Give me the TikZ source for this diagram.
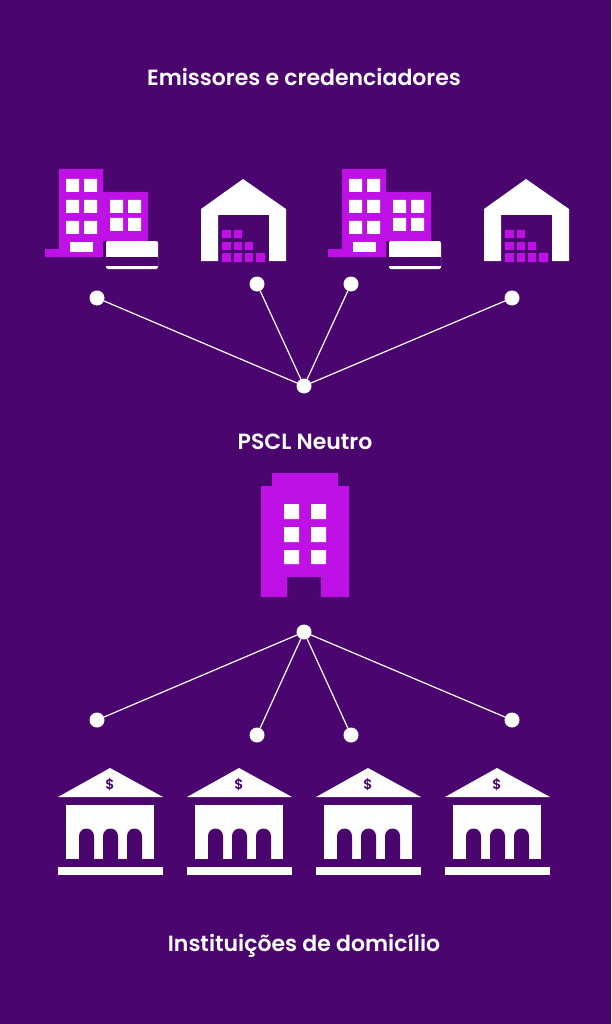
\documentclass[tikz,border=0pt]{standalone}
\usepackage{fontspec}
\setmainfont{Poppins}[UprightFont=*-Medium,BoldFont=*-SemiBold]
\definecolor{bgpurple}{HTML}{4A056F}
\definecolor{brightpurple}{HTML}{BF11E6}
\tikzset{
	dot/.style={circle,fill=white,inner sep=0pt,minimum size=15pt},
	wire/.style={draw=white,line width=1.2pt},
	heading/.style={text=white,font=\fontsize{22}{26}\selectfont\bfseries,inner sep=0pt},
	office/.pic={
		\fill[brightpurple] (14,9) -- (58,9) -- (58,32) -- (103,32) -- (103,81) -- (58,81) -- (58,97) -- (0,97) -- (0,89) -- (14,89) -- cycle;
		\fill[white] (21,19) rectangle (34,32) (39,19) rectangle (52,32);
		\fill[white] (21,40) rectangle (34,53) (39,40) rectangle (52,53);
		\fill[white] (21,61) rectangle (34,74) (39,61) rectangle (52,74);
		\fill[white] (65,40) rectangle (78,53) (83,40) rectangle (96,53);
		\fill[white] (65,58) rectangle (78,71) (83,58) rectangle (96,71);
		\fill[white] (25,82) rectangle (48,92);
		\fill[white,rounded corners=2pt] (61,81) rectangle (113,109);
		\fill[bgpurple] (61,97) rectangle (113,106);
	},
	depot/.pic={
		\fill[white] (0,30) -- (42,0) -- (85,30) -- (85,82) -- (68,82) -- (68,36) -- (17,36) -- (17,82) -- (0,82) -- cycle;
		\fill[brightpurple] (21,51) rectangle (30,59) (33,51) rectangle (41,59);
		\fill[brightpurple] (21,63) rectangle (30,71) (33,63) rectangle (41,71) (44,63) rectangle (52,71);
		\fill[brightpurple] (21,74) rectangle (30,83) (33,74) rectangle (41,83) (44,74) rectangle (52,83) (55,74) rectangle (64,83);
	},
	bank/.pic={
		\fill[white] (0,29) -- (52,0) -- (105,29) -- cycle;
		\fill[white] (8,37) rectangle (96,91);
		\fill[bgpurple] (21,91) -- (21,68) arc[start angle=180,end angle=360,radius=7.5] -- (36,91) -- cycle;
		\fill[bgpurple] (45,91) -- (45,68) arc[start angle=180,end angle=360,radius=7.5] -- (60,91) -- cycle;
		\fill[bgpurple] (69,91) -- (69,68) arc[start angle=180,end angle=360,radius=7.5] -- (84,91) -- cycle;
		\fill[white] (0,99) rectangle (105,107);
		\node[text=bgpurple,font=\fontsize{14}{14}\selectfont\bfseries,inner sep=0pt] (sign) at (52,17) {\$};
	},
}
\begin{document}
\begin{tikzpicture}[x=1pt,y=-1pt]
	\fill[bgpurple] (0,0) rectangle (611,1024);
	\useasboundingbox (0,0) rectangle (611,1024);
	
	\node[heading] (top_title) at (304,77) {Emissores e credenciadores};
	\node[heading] (mid_title) at (305,442) {PSCL Neutro};
	\node[heading] (low_title) at (304,945) {Instituições de domicílio};
	
	\pic at (45,160) {office};
	\pic at (201,179) {depot};
	\pic at (328,160) {office};
	\pic at (484,179) {depot};
	
	% central building
	\fill[brightpurple] (272,473) -- (338,473) -- (338,486) -- (349,486) -- (349,597) -- (321,597) -- (321,577) -- (287,577) -- (287,597) -- (261,597) -- (261,486) -- (272,486) -- cycle;
	\fill[white] (284,504) rectangle (299,519) (311,504) rectangle (326,519);
	\fill[white] (284,527) rectangle (299,542) (311,527) rectangle (326,542);
	\fill[white] (284,550) rectangle (299,564) (311,550) rectangle (326,564);
	
	\pic at (58,768) {bank};
	\pic at (187,768) {bank};
	\pic at (316,768) {bank};
	\pic at (445,768) {bank};
	
	\node[dot] (t_1) at (97,298) {};
	\node[dot] (t_2) at (257,284) {};
	\node[dot] (t_3) at (351,284) {};
	\node[dot] (t_4) at (512,298) {};
	\node[dot] (hub_t) at (304,386) {};
	\node[dot] (hub_b) at (304,632) {};
	\node[dot] (b_1) at (97,720) {};
	\node[dot] (b_2) at (257,735) {};
	\node[dot] (b_3) at (351,735) {};
	\node[dot] (b_4) at (512,720) {};
	
	\path[wire]
	(hub_t) edge (t_1)
	edge (t_2)
	edge (t_3)
	edge (t_4)
	(hub_b) edge (b_1)
	edge (b_2)
	edge (b_3)
	edge (b_4);
\end{tikzpicture}
\end{document}
